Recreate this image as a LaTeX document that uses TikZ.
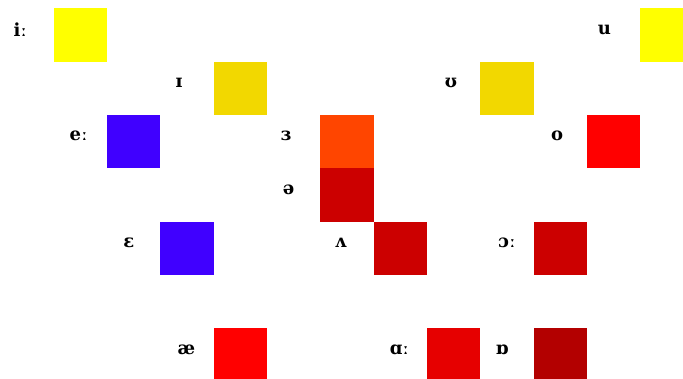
\documentclass[tikz,border=0pt]{standalone}
\usepackage{fontspec}
\setmainfont{DejaVu Serif}
\usepackage{xcolor}
\usetikzlibrary{positioning}

\definecolor{cyel}{HTML}{FFFF00}
\definecolor{cgold}{HTML}{F2D800}
\definecolor{cblue}{HTML}{4000FF}
\definecolor{corng}{HTML}{FF4500}
\definecolor{cred}{HTML}{FF0000}
\definecolor{cdred}{HTML}{CC0000}
\definecolor{cmred}{HTML}{E60000}
\definecolor{cbred}{HTML}{B30000}

\begin{document}
\begin{tikzpicture}[
  x=40pt,y=-40pt,
  sq/.style={minimum size=40pt,inner sep=0pt,anchor=north west},
  lbl/.style={font=\bfseries\fontsize{13.5}{15}\selectfont,inner sep=0pt,on grid,yshift=4pt}
]
\useasboundingbox (0,-0.15) rectangle (12.806,6.9375);

% top row
\node[sq,fill=cyel] (ii) at (1,0) {};
\node[lbl,left=19.5pt of ii.west] (lii) {iː};
\node[sq,fill=cyel] (uu) at (12,0) {};
\node[lbl,left=21.5pt of uu.west] (luu) {u};

\node[sq,fill=cgold] (ih) at (4,1) {};
\node[lbl,left=23pt of ih.west] (lih) {ɪ};
\node[sq,fill=cgold] (uh) at (9,1) {};
\node[lbl,left=17pt of uh.west] (luh) {ʊ};

% mid rows
\node[sq,fill=cblue] (ee) at (2,2) {};
\node[lbl,left=14pt of ee.west] (lee) {eː};
\node[sq,fill=corng] (er) at (6,2) {};
\node[lbl,left=21.5pt of er.west] (ler) {ɜ};
\node[sq,fill=cdred] (sw) at (6,3) {};
\node[lbl,left=19pt of sw.west] (lsw) {ə};
\node[sq,fill=cred] (oo) at (11,2) {};
\node[lbl,left=17.5pt of oo.west] (loo) {o};

\node[sq,fill=cblue] (eh) at (3,4) {};
\node[lbl,left=19pt of eh.west] (leh) {ɛ};
\node[sq,fill=cdred] (vv) at (7,4) {};
\node[lbl,left=20pt of vv.west] (lvv) {ʌ};
\node[sq,fill=cdred] (ao) at (10,4) {};
\node[lbl,left=13pt of ao.west] (lao) {ɔː};

% bottom row
\node[sq,fill=cred] (ae) at (4,6) {};
\node[lbl,left=13.5pt of ae.west] (lae) {æ};
\node[sq,fill=cmred] (aa) at (8,6) {};
\node[lbl,left=13pt of aa.west] (laa) {ɑː};
\node[sq,fill=cbred] (oh) at (10,6) {};
\node[lbl,left=18.5pt of oh.west] (loh) {ɒ};
\end{tikzpicture}
\end{document}
